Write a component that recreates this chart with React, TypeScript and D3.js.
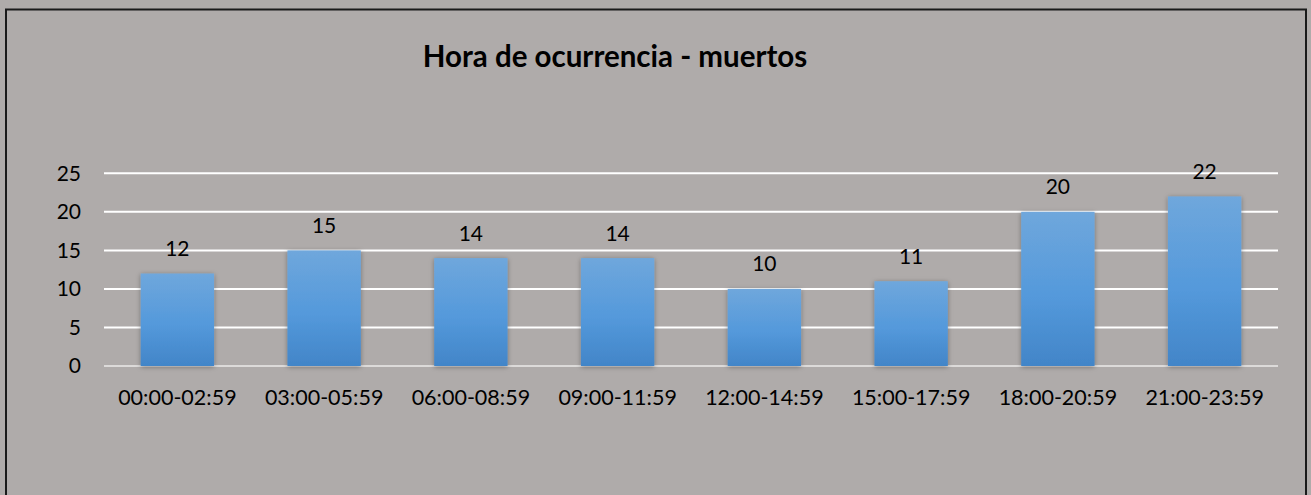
import React, { useEffect, useRef } from "react";
import * as d3 from "d3";

const categories = ["00:00-02:59", "03:00-05:59", "06:00-08:59", "09:00-11:59", "12:00-14:59", "15:00-17:59", "18:00-20:59", "21:00-23:59"];
const values = [12, 15, 14, 14, 10, 11, 20, 22];
const yTicks = [0, 5, 10, 15, 20, 25];
const title = "Hora de ocurrencia - muertos";

const W = 1311;
const H = 495;
const FONT = "Lato, 'Open Sans', sans-serif";

export default function App() {
  const ref = useRef<SVGSVGElement | null>(null);

  useEffect(() => {
    const svg = d3.select(ref.current);
    svg.selectAll("*").remove();

    const plot = { left: 104, right: 1278, top: 173.3, bottom: 366 };

    const defs = svg.append("defs");
    const grad = defs.append("linearGradient").attr("id", "barGrad").attr("x1", 0).attr("y1", 0).attr("x2", 0).attr("y2", 1);
    grad.append("stop").attr("offset", "0%").attr("stop-color", "#6fa7dc");
    grad.append("stop").attr("offset", "55%").attr("stop-color", "#5499db");
    grad.append("stop").attr("offset", "100%").attr("stop-color", "#4285c8");
    const f = defs.append("filter").attr("id", "shadow").attr("x", "-20%").attr("y", "-20%").attr("width", "140%").attr("height", "140%");
    f.append("feDropShadow").attr("dx", 0).attr("dy", 1).attr("stdDeviation", 2.5).attr("flood-color", "#000").attr("flood-opacity", 0.35);

    svg.append("rect").attr("x", 0).attr("y", 0).attr("width", W).attr("height", H).attr("fill", "#afabaa");
    svg.append("rect").attr("x", 6).attr("y", 9.5).attr("width", 1300).attr("height", 500)
      .attr("fill", "none").attr("stroke", "#1a1a1a").attr("stroke-width", 2);

    const x = d3.scaleBand<string>().domain(categories).range([plot.left, plot.right]).padding(0.5).paddingOuter(0.25);
    const y = d3.scaleLinear().domain([0, 25]).range([plot.bottom, plot.top]);

    svg.append("g").selectAll("line").data(yTicks).join("line")
      .attr("x1", plot.left).attr("x2", plot.right)
      .attr("y1", (d) => y(d)).attr("y2", (d) => y(d))
      .attr("stroke", (d) => (d === 0 ? "#dcdad9" : "#ffffff"))
      .attr("stroke-width", 2);

    svg.append("g").selectAll("text").data(yTicks).join("text")
      .attr("x", 81).attr("y", (d) => y(d)).attr("dy", "0.35em")
      .attr("text-anchor", "end").attr("font-family", FONT).attr("font-size", 21).attr("fill", "#000")
      .text((d) => String(d));

    svg.append("g").selectAll("rect").data(values).join("rect")
      .attr("x", (_, i) => x(categories[i])!)
      .attr("width", x.bandwidth())
      .attr("y", (d) => y(d))
      .attr("height", (d) => y(0) - y(d))
      .attr("fill", "url(#barGrad)")
      .attr("filter", "url(#shadow)");

    svg.append("g").selectAll("text").data(values).join("text")
      .attr("x", (_, i) => x(categories[i])! + x.bandwidth() / 2)
      .attr("y", (d) => y(d) - 17.5)
      .attr("text-anchor", "middle").attr("font-family", FONT).attr("font-size", 21).attr("fill", "#000")
      .text((d) => String(d));

    svg.append("g").selectAll("text").data(categories).join("text")
      .attr("x", (d) => x(d)! + x.bandwidth() / 2)
      .attr("y", 405)
      .attr("text-anchor", "middle").attr("font-family", FONT).attr("font-size", 21.5).attr("fill", "#000")
      .text((d) => d);

    svg.append("text").attr("x", 615).attr("y", 66.5).attr("text-anchor", "middle")
      .attr("font-family", FONT).attr("font-weight", "bold").attr("font-size", 29.5).attr("fill", "#000")
      .text(title);
  }, []);

  return <svg ref={ref} width={W} height={H} style={{ position: "absolute", left: 0, top: 0, display: "block" }} />;
}
